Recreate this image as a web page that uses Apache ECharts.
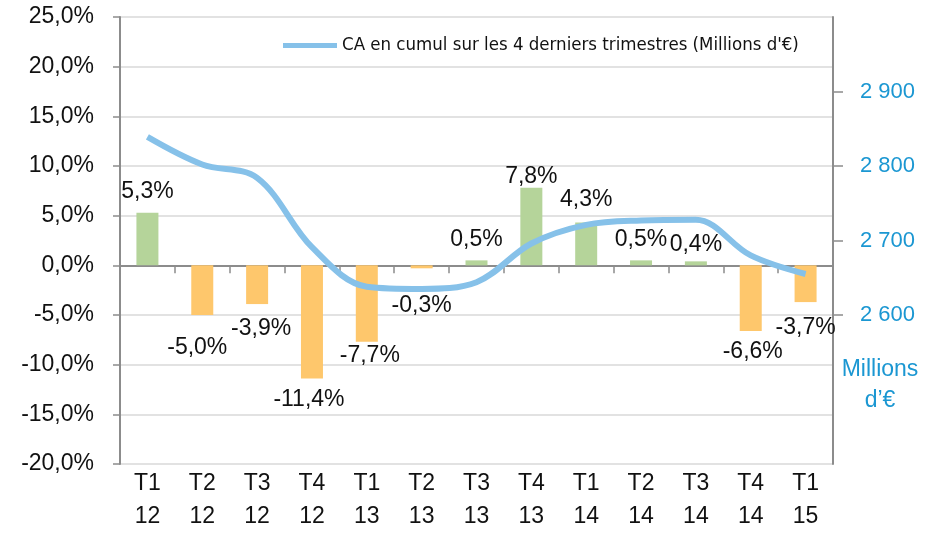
<!DOCTYPE html>
<html>
<head>
<meta charset="utf-8">
<script src="https://cdn.jsdelivr.net/npm/echarts@6/dist/echarts.min.js"></script>
<style>
  html, body { margin: 0; padding: 0; background: #fff; }
  #chart { width: 942px; height: 533px; }
</style>
</head>
<body>
<div id="chart"></div>
<script>
// trimestres
var quarters = ['T1\n12', 'T2\n12', 'T3\n12', 'T4\n12', 'T1\n13', 'T2\n13', 'T3\n13',
  'T4\n13', 'T1\n14', 'T2\n14', 'T3\n14', 'T4\n14', 'T1\n15'];
// variation trimestrielle (%)
var variation = [5.3, -5.0, -3.9, -11.4, -7.7, -0.3, 0.5, 7.8, 4.3, 0.5, 0.4, -6.6, -3.7];
// CA en cumul sur 4 trimestres (Millions d'€)
var caCumul = [2839, 2802, 2784, 2691, 2638, 2635, 2644, 2696, 2721, 2727, 2728, 2680, 2655];
// graduations
var pctTicks = [-20, -15, -10, -5, 0, 5, 10, 15, 20, 25];
var caTicks = [2600, 2700, 2800, 2900];

var legendName = "CA en cumul sur les 4 derniers trimestres (Millions d'€)";
var blueText = '#1b97d2';
var axisGray = '#8c8c8c';

// petits décalages des étiquettes (comme dans Excel)
var labelDist = [10, 21, 13, 10, 2, 26, 9, 0, 11, 9, 5, 9, 14];
var labelDx = [0, -5, 4, -3, 3, 0, 0, 0, 0, 0, 0, 2, 0];

function pct(v) {
  return v.toFixed(1).replace('.', ',') + '%';
}

var barData = variation.map(function (v, i) {
  return {
    value: v,
    itemStyle: { color: v >= 0 ? '#b5d49a' : '#fec76c' },
    label: {
      position: v >= 0 ? 'top' : 'bottom',
      distance: labelDist[i],
      offset: [labelDx[i], 0]
    }
  };
});

var chart = echarts.init(document.getElementById('chart'));
var option = {
  animation: false,
  textStyle: { fontFamily: 'Liberation Sans, Arial, sans-serif' },
  grid: { left: 120, right: 109, top: 17, bottom: 64 },
  legend: {
    data: [{ name: legendName, icon: 'rect' }],
    left: 278,
    top: 31,
    itemWidth: 54,
    itemHeight: 5,
    itemGap: 8,
    textStyle: {
      fontFamily: '"Liberation Sans Narrow", "DejaVu Sans Condensed", sans-serif',
      fontSize: 18.5,
      color: '#111'
    }
  },
  xAxis: [{
    type: 'category',
    data: quarters,
    position: 'bottom',
    axisLine: { show: false, onZero: false },
    axisTick: { show: false },
    axisLabel: { color: '#111', fontSize: 23, lineHeight: 33, margin: 3 }
  }, {
    type: 'category',
    data: quarters,
    position: 'bottom',
    axisLine: { show: true, onZero: true, lineStyle: { color: axisGray, width: 2 } },
    axisTick: { show: true, length: 8, lineStyle: { color: axisGray, width: 1.5 } },
    axisLabel: { show: false }
  }],
  yAxis: [{
    type: 'value',
    min: -20,
    max: 25,
    interval: 5,
    axisLine: { show: true, lineStyle: { color: axisGray, width: 2 } },
    axisTick: { show: true, length: 7, lineStyle: { color: axisGray, width: 1.5 } },
    splitLine: { show: true, lineStyle: { color: '#d9d9d9', width: 1.5 } },
    axisLabel: {
      color: '#111', fontSize: 23, margin: 26,
      customValues: pctTicks,
      formatter: function (v) { return pct(v); }
    }
  }, {
    type: 'value',
    min: 2400,
    max: 3000,
    interval: 100,
    position: 'right',
    axisLine: { show: true, lineStyle: { color: axisGray, width: 2 } },
    axisTick: { show: true, length: 10, customValues: caTicks, lineStyle: { color: axisGray, width: 1.5 } },
    splitLine: { show: false },
    axisLabel: {
      color: blueText, fontSize: 22, margin: 27,
      customValues: caTicks,
      formatter: function (v) { return String(v).replace(/(\d)(\d{3})$/, '$1 $2'); }
    }
  }],
  series: [{
    name: 'Variation',
    type: 'bar',
    xAxisIndex: 0,
    yAxisIndex: 0,
    barWidth: 22,
    data: barData,
    label: {
      show: true,
      color: '#111',
      fontSize: 23,
      formatter: function (p) { return pct(p.value); }
    },
    z: 2
  }, {
    name: legendName,
    type: 'line',
    xAxisIndex: 0,
    yAxisIndex: 1,
    data: caCumul,
    smooth: 0.35,
    symbol: 'none',
    itemStyle: { color: '#86c1e9' },
    lineStyle: { color: '#86c1e9', width: 6 },
    z: 3
  }],
  graphic: [{
    type: 'text',
    x: 880,
    y: 354,
    style: {
      text: 'Millions\nd’€',
      fill: blueText,
      font: '23px "Liberation Sans", Arial, sans-serif',
      lineHeight: 31,
      align: 'center'
    }
  }]
};
chart.setOption(option);
</script>
</body>
</html>
